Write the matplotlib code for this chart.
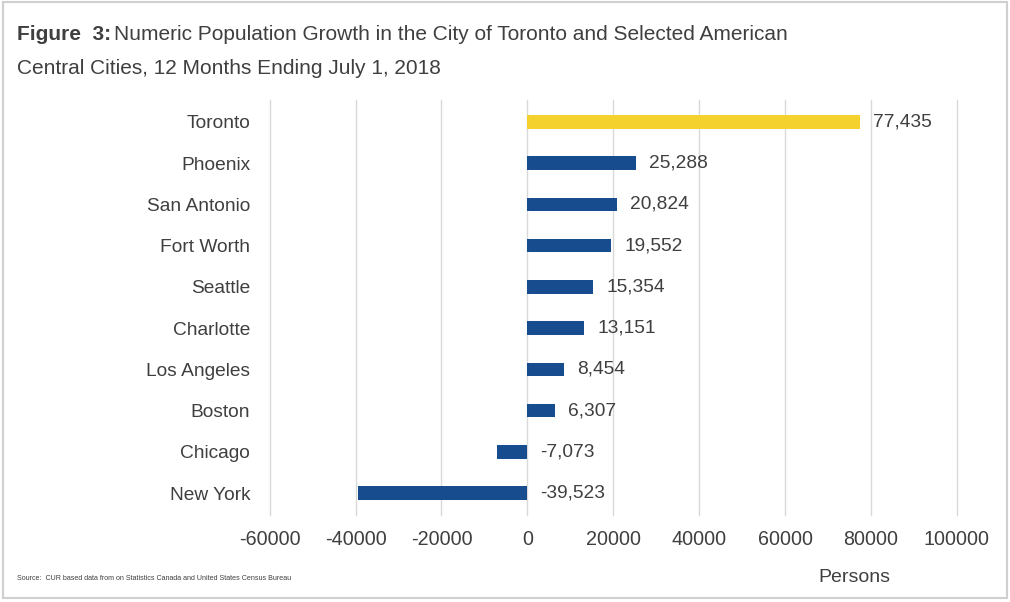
import matplotlib
matplotlib.use("Agg")
import matplotlib.pyplot as plt
from matplotlib.patches import Rectangle

# --- Data ---
cities = ["Toronto", "Phoenix", "San Antonio", "Fort Worth", "Seattle",
          "Charlotte", "Los Angeles", "Boston", "Chicago", "New York"]
growth = [77435, 25288, 20824, 19552, 15354, 13151, 8454, 6307, -7073, -39523]
x_ticks = [-60000, -40000, -20000, 0, 20000, 40000, 60000, 80000, 100000]

YELLOW = "#F5D12E"
BLUE = "#174C8E"
TXT = "#3F3F3F"

plt.rcParams["font.family"] = ["Liberation Sans", "DejaVu Sans"]

fig = plt.figure(figsize=(10.1, 6.02), dpi=100)
ax = fig.add_axes([0.267, 0.1445, 0.6805, 0.6895])

colors = [YELLOW if c == "Toronto" else BLUE for c in cities]
ypos = list(range(len(cities)))
ax.barh(ypos, growth, height=0.33, color=colors, zorder=3)

# value labels: right of the bar end, or right of zero for negatives
for y, v in zip(ypos, growth):
    ax.annotate(f"{v:,}", xy=(max(v, 0), y), xytext=(9.5, 0),
                textcoords="offset points", va="center", ha="left",
                fontsize=13.8, color=TXT)

ax.set_xlim(-60000, 100000)
ax.set_ylim(len(cities) - 0.47, -0.53)
ax.set_xticks(x_ticks)
ax.set_xticklabels([str(t) for t in x_ticks])
ax.set_yticks(ypos)
ax.set_yticklabels(cities)
ax.tick_params(axis="both", length=0, labelcolor=TXT)
ax.tick_params(axis="y", pad=14, labelsize=13.8)
ax.tick_params(axis="x", pad=11, labelsize=14.2)
ax.grid(axis="x", color="#D9D9D9", linewidth=1, zorder=0)
for gl in ax.get_xgridlines():
    gl.set_clip_on(False)
for s in ax.spines.values():
    s.set_visible(False)

# --- Title: bold prefix + regular rest ---
t1 = fig.text(17 / 1010, 1 - 25 / 602, "Figure  3:", fontsize=15,
              fontweight="bold", color=TXT, va="top", ha="left")
fig.canvas.draw()
bb = t1.get_window_extent()
fig.text(bb.x1 / 1010 + 0.003, 1 - 25 / 602,
         "Numeric Population Growth in the City of Toronto and Selected American",
         fontsize=15, color=TXT, va="top", ha="left")
fig.text(17 / 1010, 1 - 59 / 602,
         "Central Cities, 12 Months Ending July 1, 2018",
         fontsize=15, color=TXT, va="top", ha="left")

fig.text(17 / 1010, 1 - 578 / 602,
         "Source:  CUR based data from on Statistics Canada and United States Census Bureau",
         fontsize=5.15, color=TXT, va="center", ha="left")
fig.text(854 / 1010, 1 - 577 / 602, "Persons", fontsize=14, color=TXT,
         va="center", ha="center")

# light grey frame around the whole figure
fig.patches.append(Rectangle((0.003, 0.006), 0.994, 0.99, transform=fig.transFigure,
                             fill=False, edgecolor="#D0D0D0", linewidth=1.5))

fig.savefig("out.png", dpi=100, facecolor="white")
